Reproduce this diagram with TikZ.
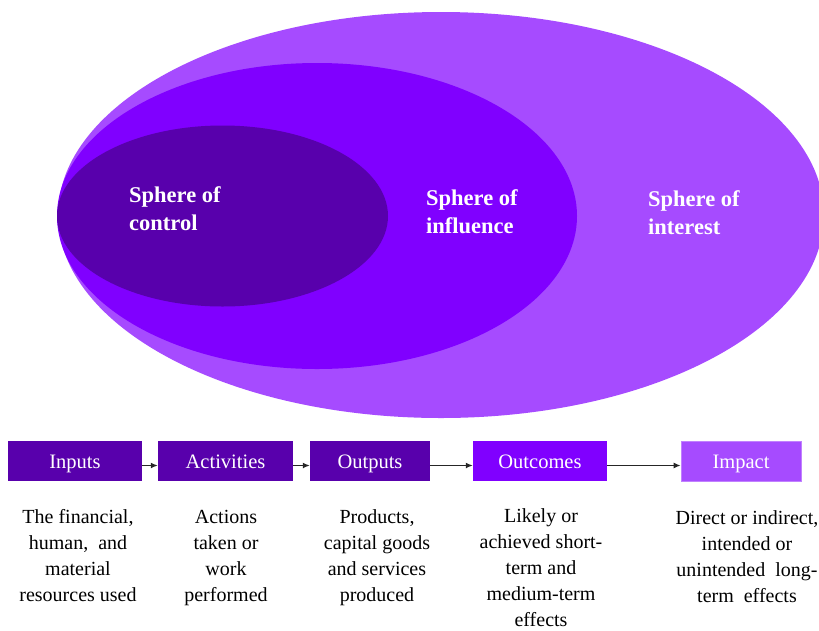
\documentclass[tikz,border=0pt]{standalone}
\usepackage{fontspec}
\setmainfont{Liberation Serif}
\usetikzlibrary{shapes.geometric,arrows.meta}
\definecolor{pdark}{HTML}{5800AC}
\definecolor{pmid}{HTML}{8000FF}
\definecolor{plight}{HTML}{A64BFF}
\tikzset{
  sphere/.style={ellipse, draw=none, inner sep=0pt, outer sep=0pt},
  slabel/.style={anchor=base west, align=left, text=white, font=\fontsize{22.5}{28}\selectfont\bfseries, inner sep=0pt},
  stage/.style={draw=none, minimum width=#1, minimum height=40pt, inner sep=0pt, text height=17pt, text depth=3pt, text=white, font=\fontsize{20.5}{24}\selectfont},
  desc/.style={anchor=base, align=center, text=black, font=\fontsize{20}{26}\selectfont, inner sep=0pt},
  flow/.style={draw=black!85, line width=1.3pt, -{Latex[length=7pt,width=6pt]}}
}
\begin{document}
\begin{tikzpicture}[x=1pt,y=-1pt]
\useasboundingbox (0,0) rectangle (819,630);
\begin{scope}
\clip (0,0) rectangle (819,630);
% spheres
\node[sphere, fill=plight, minimum width=766pt, minimum height=406pt] (interest) at (441,215) {};
\node[sphere, fill=pmid, minimum width=520pt, minimum height=306pt] (influence) at (317,216) {};
\node[sphere, fill=pdark, minimum width=331pt, minimum height=181pt] (control) at (222.5,216) {};
\end{scope}
% labels (anchor = baseline of last line)
\node[slabel] (lcontrol) at (129,230) {Sphere of\\control};
\node[slabel] (linfluence) at (426,233) {Sphere of\\influence};
\node[slabel] (linterest) at (648,234) {Sphere of\\interest};
% stages
\node[stage=134pt, fill=pdark] (inputs) at (75,461) {Inputs};
\node[stage=135pt, fill=pdark] (activities) at (225.5,461) {Activities};
\node[stage=120pt, fill=pdark] (outputs) at (370,461) {Outputs};
\node[stage=134pt, fill=pmid] (outcomes) at (540,461) {Outcomes};
\node[stage=120pt, fill=plight, draw=plight!70!white, line width=0.8pt] (impact) at (741,461) {Impact};
% arrows
\draw[flow] ([yshift=-4.5pt]inputs.east) -- ([yshift=-4.5pt]activities.west);
\draw[flow] ([yshift=-4.5pt]activities.east) -- ([yshift=-4.5pt]outputs.west);
\draw[flow] ([yshift=-4.5pt]outputs.east) -- ([yshift=-4.5pt]outcomes.west);
\draw[flow] ([yshift=-4.5pt]outcomes.east) -- ([yshift=-4.5pt]impact.west);
% descriptions (anchor = baseline of last line)
\node[desc] (dinputs) at (78,601) {The financial,\\human,\ \ and\\material\\resources used};
\node[desc] (dactivities) at (226,601) {Actions\\taken or\\work\\performed};
\node[desc] (doutputs) at (377,601) {Products,\\capital goods\\and services\\produced};
\node[desc] (doutcomes) at (541,626) {Likely or\\achieved short-\\term and\\medium-term\\effects};
\node[desc] (dimpact) at (747,602) {Direct or indirect,\\intended or\\unintended\ \ long-\\term\ \ effects};
\end{tikzpicture}
\end{document}
